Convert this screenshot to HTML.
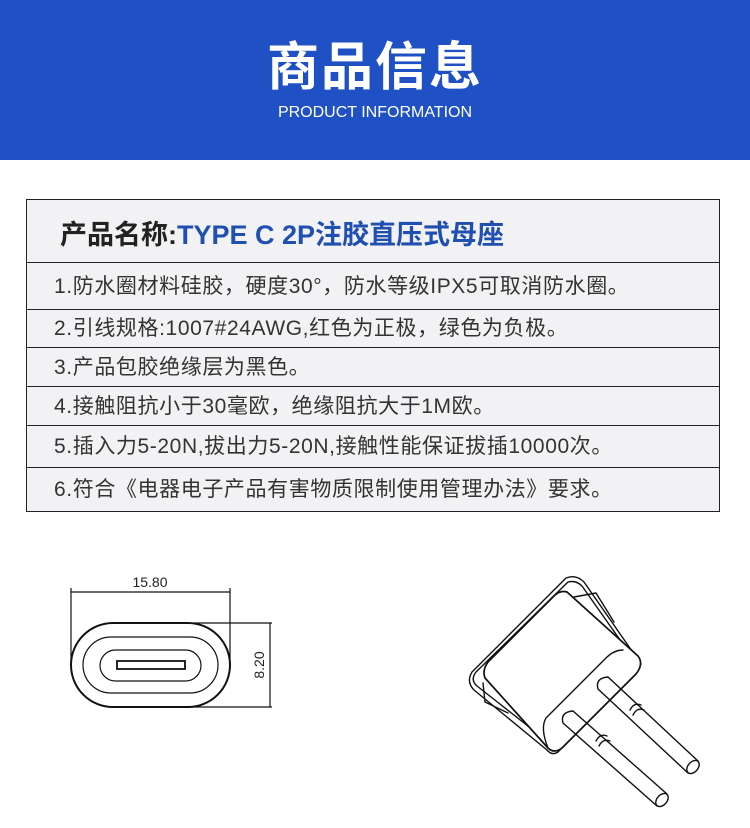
<!DOCTYPE html>
<html><head><meta charset="utf-8"><style>
body{margin:0;width:750px;height:828px;background:#fff;position:relative;overflow:hidden;font-family:"Liberation Sans","Noto Sans CJK SC",sans-serif}
.ban{position:absolute;left:0;top:0;width:750px;height:160px;background:#1f50c4;color:#fff;text-align:center}
.ban h1{margin:0;position:absolute;top:36px;width:100%;font-size:52px;font-weight:bold;letter-spacing:2px;line-height:64px}
.ban p{margin:0;position:absolute;top:103px;width:100%;font-size:16px;line-height:20px}
.tbl{position:absolute;left:26px;top:199px;width:692px;height:311px;border:1px solid #222;background:#f2f2f4}
.r{position:absolute;left:0;width:692px;border-top:1px solid #222;font-size:21px;color:#333;padding-left:27px;box-sizing:border-box;letter-spacing:0.6px;white-space:nowrap}
.hd{position:absolute;left:33px;top:13px;font-size:27px;font-weight:bold;color:#222;white-space:nowrap}
.hd span{color:#1f4fb0}
</style></head><body>
<div class="ban"><h1>商品信息</h1><p>PRODUCT INFORMATION</p></div>
<div class="tbl">
<div class="hd">产品名称:<span>TYPE C 2P注胶直压式母座</span></div>
<div class="r" style="top:62px;height:47px;line-height:47px">1.防水圈材料硅胶，硬度30°，防水等级IPX5可取消防水圈。</div>
<div class="r" style="top:109px;height:38px;line-height:38px">2.引线规格:1007#24AWG,红色为正极，绿色为负极。</div>
<div class="r" style="top:147px;height:39px;line-height:39px">3.产品包胶绝缘层为黑色。</div>
<div class="r" style="top:186px;height:39px;line-height:39px">4.接触阻抗小于30毫欧，绝缘阻抗大于1M欧。</div>
<div class="r" style="top:225px;height:42px;line-height:42px">5.插入力5-20N,拔出力5-20N,接触性能保证拔插10000次。</div>
<div class="r" style="top:267px;height:44px;line-height:44px">6.符合《电器电子产品有害物质限制使用管理办法》要求。</div>
</div>
<svg style="position:absolute;left:0;top:0" width="750" height="828" fill="none" stroke="#111" stroke-width="1.2">
<line x1="71" y1="592" x2="230" y2="592"/><line x1="71" y1="588" x2="71" y2="660"/><line x1="230" y1="588" x2="230" y2="660"/>
<text x="150" y="587" font-size="14" fill="#222" stroke="none" text-anchor="middle" font-family="Liberation Sans">15.80</text>
<rect x="71" y="623" width="159" height="84" rx="42" stroke-width="2"/>
<rect x="83" y="637" width="135" height="56" rx="28"/>
<rect x="100" y="650" width="101" height="31" rx="15.5"/>
<rect x="117" y="661" width="68" height="8" stroke-width="1.8"/>
<line x1="193" y1="623" x2="272" y2="623"/><line x1="193" y1="707" x2="272" y2="707"/><line x1="270" y1="623" x2="270" y2="707"/>
<text x="0" y="0" font-size="14" fill="#222" stroke="none" text-anchor="middle" font-family="Liberation Sans" transform="translate(264,665) rotate(-90)">8.20</text>
<g stroke-width="1.4" stroke-linejoin="round" stroke-linecap="round">
<path d="M566 578 Q576 574 584 582 L641 664 L558 752 Q552 756 547 750 L474 690 Q466 682 472 672 Z"/>
<path d="M568 582 Q576 580 582 586 L637 664 L556 748 L477 686 Q470 680 476 672 Z"/>
<path d="M574 597 L596 593 L614 622 M483 683 L485 702 L508 713"/>
<path d="M567 592 Q560 590 554 596 L488 662 Q482 670 485 678 L548 748 Q554 754 562 748 L636 674 Q644 664 638 656 Z" fill="#fff" stroke-width="1.7"/>
<path d="M623 650 Q614 650 606 658 L546 718 Q540 728 548 748"/>
<path d="M573 711 L667 794 M563 723 L657 806 M563 723 Q560 712 573 711" fill="#fff"/>
<ellipse cx="662" cy="800" rx="7.5" ry="5" transform="rotate(131 662 800)"/>
<path d="M608 677 L698 761 M598 689 L688 773 M598 689 Q595 678 608 677"/>
<ellipse cx="693" cy="767" rx="7.5" ry="5" transform="rotate(131 693 767)"/>
<path d="M596 741 q4 -8 11 -5 M599 746 q4 -8 11 -5"/>
<path d="M630 710 q4 -8 11 -5 M633 715 q4 -8 11 -5"/>
</g>
</svg>
</body></html>
